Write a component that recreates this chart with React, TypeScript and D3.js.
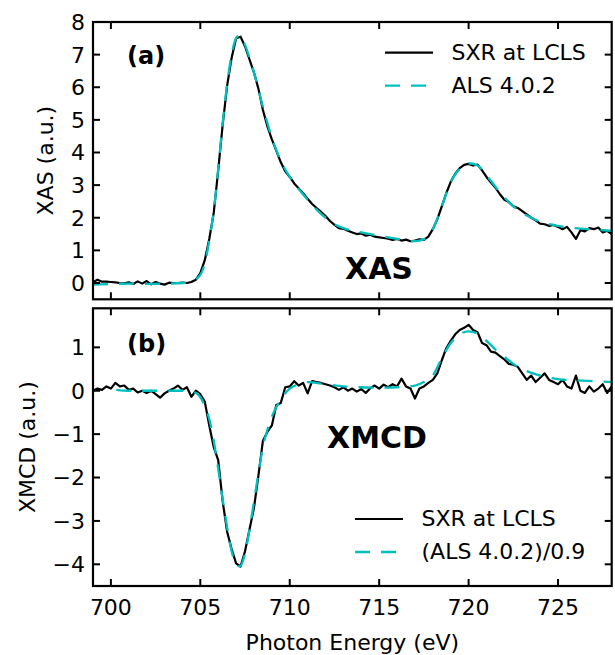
import React from "react";
import * as d3 from "d3";

// ---------- data ----------
const energyLCLS = [
  699.0, 699.25, 699.5, 699.75, 700.0, 700.25, 700.5, 700.75, 701.0, 701.25, 701.5, 701.75,
  702.0, 702.25, 702.5, 702.75, 703.0, 703.25, 703.5, 703.75, 704.0, 704.25, 704.5, 704.75,
  705.0, 705.25, 705.5, 705.75, 706.0, 706.25, 706.5, 706.75, 707.0, 707.25, 707.5, 707.75,
  708.0, 708.25, 708.5, 708.75, 709.0, 709.25, 709.5, 709.75, 710.0, 710.25, 710.5, 710.75,
  711.0, 711.25, 711.5, 711.75, 712.0, 712.25, 712.5, 712.75, 713.0, 713.25, 713.5, 713.75,
  714.0, 714.25, 714.5, 714.75, 715.0, 715.25, 715.5, 715.75, 716.0, 716.25, 716.5, 716.75,
  717.0, 717.25, 717.5, 717.75, 718.0, 718.25, 718.5, 718.75, 719.0, 719.25, 719.5, 719.75,
  720.0, 720.25, 720.5, 720.75, 721.0, 721.25, 721.5, 721.75, 722.0, 722.25, 722.5, 722.75,
  723.0, 723.25, 723.5, 723.75, 724.0, 724.25, 724.5, 724.75, 725.0, 725.25, 725.5, 725.75,
  726.0, 726.25, 726.5, 726.75, 727.0, 727.25, 727.5, 727.75, 728.0,
];

const xasLCLS = [
  0.02, 0.1, 0.04, 0.04, 0.03, 0.02, 0.0, -0.01, 0.02, -0.03, 0.05, -0.02,
  0.06, -0.04, 0.03, -0.02, -0.05, 0.01, 0.0, 0.0, 0.01, 0.0, 0.03, 0.1,
  0.3, 0.7, 1.35, 2.15, 3.45, 4.85, 6.05, 6.9, 7.5, 7.55, 7.25, 6.85,
  6.45, 5.95, 5.3, 4.8, 4.4, 4.05, 3.7, 3.42, 3.25, 3.05, 2.9, 2.75,
  2.58, 2.42, 2.3, 2.18, 2.05, 1.9, 1.78, 1.68, 1.66, 1.6, 1.55, 1.5,
  1.52, 1.45, 1.48, 1.42, 1.4, 1.38, 1.36, 1.32, 1.35, 1.3, 1.33, 1.28,
  1.3, 1.34, 1.32, 1.42, 1.65, 1.95, 2.35, 2.75, 3.1, 3.35, 3.52, 3.62,
  3.65, 3.6, 3.63, 3.45, 3.25, 3.08, 2.92, 2.72, 2.55, 2.48, 2.35, 2.3,
  2.2, 2.1, 2.0, 1.92, 1.82, 1.8, 1.75, 1.78, 1.72, 1.65, 1.72, 1.55,
  1.35, 1.62, 1.58, 1.68, 1.65, 1.7, 1.55, 1.6, 1.5,
];

const xmcdLCLS = [
  0.0, 0.05, 0.02, 0.1, 0.05, 0.18, 0.1, 0.12, 0.02, 0.05, -0.04, 0.0,
  -0.05, 0.0, -0.08, -0.16, -0.06, 0.0, 0.05, 0.12, 0.02, 0.08, -0.14, 0.0,
  -0.08, -0.25, -0.8, -1.3, -1.6, -2.55, -3.25, -3.65, -3.98, -4.05, -3.7, -3.2,
  -2.7, -1.95, -1.15, -0.95, -0.8, -0.33, -0.28, 0.08, 0.1, 0.22, 0.12, 0.18,
  -0.06, 0.22, 0.2, 0.18, 0.15, 0.12, 0.08, 0.02, 0.08, 0.0, 0.05, -0.02,
  0.04, -0.05, 0.06, 0.12, 0.05, 0.14, 0.08, 0.15, 0.1, 0.28, 0.1, 0.05,
  -0.18, 0.05, 0.1, 0.18, 0.25, 0.4, 0.7, 0.98, 1.15, 1.3, 1.4, 1.45,
  1.52, 1.4, 1.35, 1.1, 1.05, 0.9, 0.88, 0.8, 0.72, 0.62, 0.6, 0.55,
  0.4, 0.25, 0.35, 0.2, 0.3, 0.4, 0.25, 0.2, 0.15, 0.25, 0.1, 0.05,
  0.35, 0.0, -0.05, 0.1, -0.02, 0.05, 0.15, -0.05, 0.1,
];

const energyALSxas = [
  699.0, 700.0, 701.0, 702.0, 703.0, 704.0, 704.5, 705.0, 705.25, 705.5, 705.75, 706.0,
  706.25, 706.5, 706.75, 707.0, 707.2, 707.5, 707.75, 708.0, 708.5, 709.0, 709.5, 710.0,
  710.5, 711.0, 711.5, 712.0, 712.5, 713.0, 713.5, 714.0, 715.0, 716.0, 716.75, 717.25,
  717.75, 718.0, 718.5, 719.0, 719.5, 720.0, 720.5, 721.0, 721.5, 722.0, 722.5, 723.0,
  723.5, 724.0, 725.0, 726.0, 727.0, 728.0,
];
const xasALS = [
  -0.05, -0.03, -0.02, -0.03, -0.02, 0.0, 0.05, 0.25, 0.6, 1.3, 2.2, 3.5,
  4.9, 6.1, 7.0, 7.5, 7.6, 7.3, 6.9, 6.45, 5.4, 4.45, 3.75, 3.25,
  2.88, 2.55, 2.25, 2.0, 1.8, 1.68, 1.6, 1.55, 1.45, 1.35, 1.28, 1.3,
  1.45, 1.65, 2.35, 3.1, 3.5, 3.67, 3.6, 3.3, 2.95, 2.62, 2.35, 2.15,
  2.0, 1.88, 1.75, 1.68, 1.64, 1.6,
];

const energyALSxmcd = [
  700.3, 701.0, 702.0, 703.0, 704.0, 704.75, 705.0, 705.25, 705.5, 705.75, 706.0, 706.25,
  706.5, 706.75, 707.0, 707.2, 707.5, 707.75, 708.0, 708.25, 708.5, 708.75, 709.0, 709.5,
  710.0, 710.5, 711.0, 712.0, 713.0, 714.0, 715.0, 716.0, 717.0, 717.5, 718.0, 718.5,
  719.0, 719.5, 720.0, 720.5, 721.0, 721.5, 722.0, 722.5, 723.0, 724.0, 725.0, 726.0,
  727.0, 728.0,
];
const xmcdALS = [
  0.02, 0.0, 0.0, 0.0, 0.0, -0.05, -0.15, -0.35, -0.65, -1.15, -1.8, -2.5,
  -3.15, -3.7, -4.0, -4.05, -3.75, -3.2, -2.55, -1.9, -1.3, -0.9, -0.6, -0.2,
  0.05, 0.15, 0.2, 0.15, 0.1, 0.08, 0.07, 0.08, 0.12, 0.2, 0.35, 0.75,
  1.1, 1.3, 1.37, 1.32, 1.15, 0.95, 0.78, 0.62, 0.5, 0.35, 0.27, 0.24,
  0.22, 0.2,
];

const xTicks = [700, 705, 710, 715, 720, 725];
const xasTicks = [0, 1, 2, 3, 4, 5, 6, 7, 8];
const xmcdTicks = [-4, -3, -2, -1, 0, 1];
const legendXAS = ["SXR at LCLS", "ALS 4.0.2"];
const legendXMCD = ["SXR at LCLS", "(ALS 4.0.2)/0.9"];

// ---------- layout ----------
const W = 615;
const H = 655;
const L = 93;
const R = 611.7;
const topPanel = { t: 22, b: 299.3 };
const botPanel = { t: 308.3, b: 586 };
const CYAN = "#00BFBF";
const FONT = "DejaVu Sans, sans-serif";
const DASH = "15,11";
const FS = 22;

const fmt = (v: number) => (v < 0 ? "\u2212" + Math.abs(v) : String(v));

function Panel({
  id, t, b, yDomain, yTicks, lcls, als, alsE, legend, legendY, legendX, panelLabel, bigLabel, bigX, bigY, yLabel, yLabelX, showXLabels,
}: any) {
  const x = d3.scaleLinear().domain([699, 728]).range([L, R]);
  const y = d3.scaleLinear().domain(yDomain).range([b, t]);
  const lineB = d3.line<number>().x((_, i) => x(energyLCLS[i])).y((d) => y(d));
  const lineC = d3.line<number>().x((_, i) => x(alsE[i])).y((d) => y(d)).curve(d3.curveMonotoneX);
  const tickLen = 7;
  return (
    <g>
      <defs>
        <clipPath id={id}>
          <rect x={L} y={t} width={R - L} height={b - t} />
        </clipPath>
      </defs>
      <g clipPath={`url(#${id})`}>
        <path d={lineB(lcls) || ""} fill="none" stroke="#000" strokeWidth={2.2} strokeLinejoin="round" />
        <path d={lineC(als) || ""} fill="none" stroke={CYAN} strokeWidth={2.3} strokeDasharray={DASH} />
      </g>
      {xTicks.map((v) => (
        <g key={"xt" + v}>
          <line x1={x(v)} x2={x(v)} y1={b} y2={b - tickLen} stroke="#000" strokeWidth={2} />
          <line x1={x(v)} x2={x(v)} y1={t} y2={t + tickLen} stroke="#000" strokeWidth={2} />
          {showXLabels && (
            <text x={x(v)} y={615} textAnchor="middle" fontSize={FS} fontFamily={FONT}>
              {v}
            </text>
          )}
        </g>
      ))}
      {yTicks.map((v: number) => (
        <g key={"yt" + v}>
          <line x1={L} x2={L + tickLen} y1={y(v)} y2={y(v)} stroke="#000" strokeWidth={2} />
          <line x1={R} x2={R - tickLen} y1={y(v)} y2={y(v)} stroke="#000" strokeWidth={2} />
          <text x={85} y={y(v)} dy="0.36em" textAnchor="end" fontSize={FS} fontFamily={FONT}>
            {fmt(v)}
          </text>
        </g>
      ))}
      <rect x={L} y={t} width={R - L} height={b - t} fill="none" stroke="#000" strokeWidth={2.2} />
      <text
        transform={`translate(${yLabelX},${(t + b) / 2}) rotate(-90)`}
        textAnchor="middle"
        fontSize={FS}
        fontFamily={FONT}
      >
        {yLabel}
      </text>
      <text x={127} y={panelLabel.y} fontSize={24} fontWeight="bold" fontFamily={FONT}>
        {panelLabel.text}
      </text>
      <text x={bigX} y={bigY} fontSize={30} fontWeight="bold" fontFamily={FONT}>
        {bigLabel}
      </text>
      {legend.map((s: string, i: number) => {
        const ly = legendY + i * 33;
        return (
          <g key={"lg" + i}>
            <line
              x1={legendX}
              x2={legendX + 48}
              y1={ly}
              y2={ly}
              stroke={i === 0 ? "#000" : CYAN}
              strokeWidth={i === 0 ? 2.2 : 2.3}
              strokeDasharray={i === 0 ? undefined : DASH}
            />
            <text x={legendX + 66.5} y={ly} dy="0.34em" fontSize={FS} fontFamily={FONT}>
              {s}
            </text>
          </g>
        );
      })}
    </g>
  );
}

export default function App() {
  return (
    <svg
      width={W}
      height={H}
      viewBox={`0 0 ${W} ${H}`}
      style={{ position: "absolute", left: 0, top: 0, background: "#fff" }}
    >
      <rect x={0} y={0} width={W} height={H} fill="#fff" />
      <Panel
        id="clipA"
        t={topPanel.t}
        b={topPanel.b}
        yDomain={[-0.5, 8]}
        yTicks={xasTicks}
        lcls={xasLCLS}
        als={xasALS}
        alsE={energyALSxas}
        legend={legendXAS}
        legendY={52.7}
        legendX={385}
        panelLabel={{ text: "(a)", y: 63.5 }}
        bigLabel="XAS"
        bigX={345}
        bigY={279}
        yLabel="XAS (a.u.)"
        yLabelX={53}
        showXLabels={false}
      />
      <Panel
        id="clipB"
        t={botPanel.t}
        b={botPanel.b}
        yDomain={[-4.5, 1.9]}
        yTicks={xmcdTicks}
        lcls={xmcdLCLS}
        als={xmcdALS}
        alsE={energyALSxmcd}
        legend={legendXMCD}
        legendY={519}
        legendX={355}
        panelLabel={{ text: "(b)", y: 351.5 }}
        bigLabel="XMCD"
        bigX={327}
        bigY={447.7}
        yLabel="XMCD (a.u.)"
        yLabelX={35}
        showXLabels={true}
      />
      <text x={(L + R) / 2} y={650} textAnchor="middle" fontSize={FS} fontFamily={FONT}>
        Photon Energy (eV)
      </text>
    </svg>
  );
}
